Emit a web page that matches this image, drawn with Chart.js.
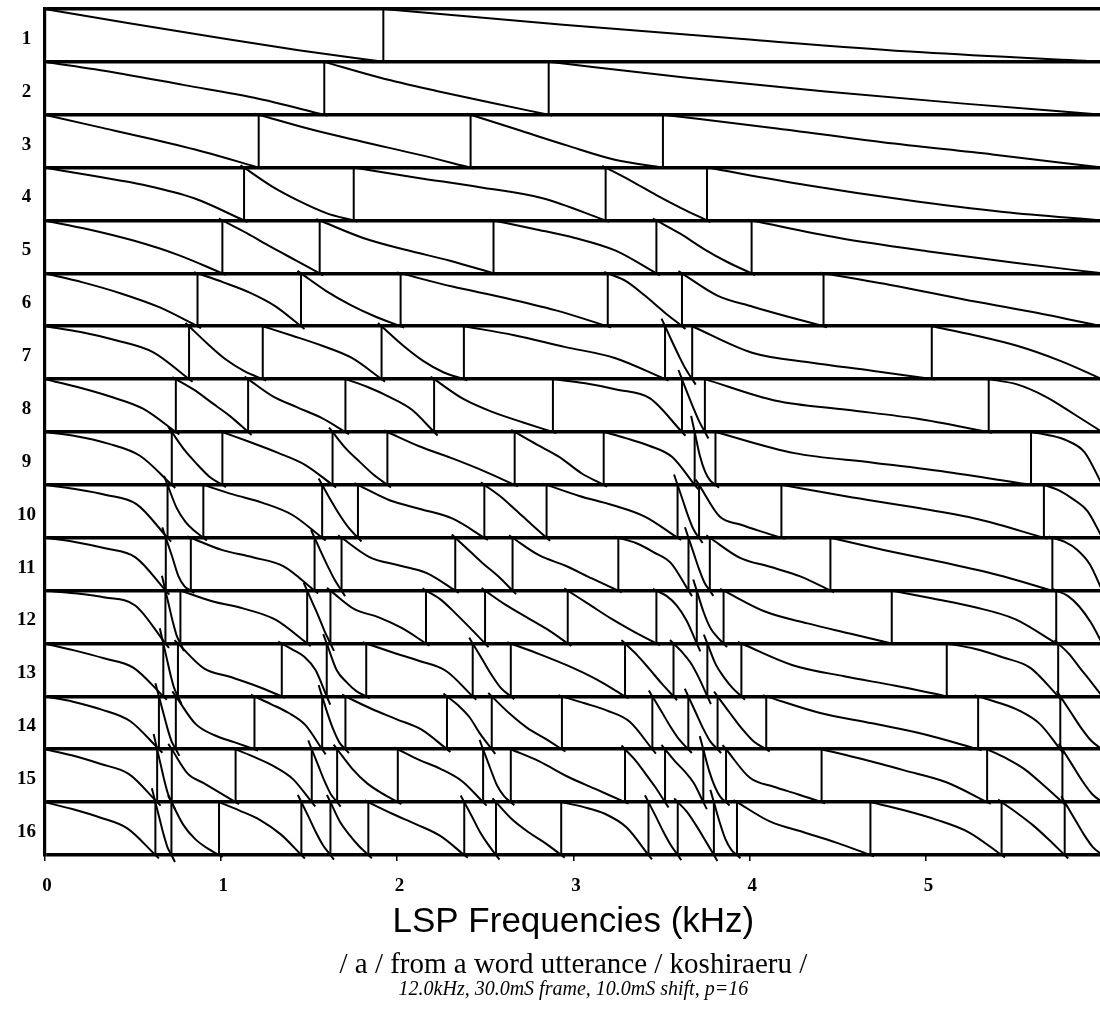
<!DOCTYPE html>
<html>
<head>
<meta charset="utf-8">
<script src="https://cdn.jsdelivr.net/npm/chart.js@4.4.1/dist/chart.umd.min.js"></script>
<style>
html,body{margin:0;padding:0;overflow:hidden;background:#fff;width:1100px;height:1012px}
#wrap{width:1110px;height:1012px}
</style>
</head>
<body>
<div id="wrap"><canvas id="c" width="1110" height="1012"></canvas></div>
<script>
// ---- data (kHz); row labels = LSP analysis order p ----
const rowLabels = ['1','2','3','4','5','6','7','8','9','10','11','12','13','14','15','16'];
const freqMax = 6; // kHz (half of 12.0 kHz sampling)

// LSP frequencies per order (kHz)
const lsp1  = [1.922];
const lsp2  = [1.587, 2.860];
const lsp3  = [1.215, 2.417, 3.508];
const lsp4  = [1.132, 1.754, 3.183, 3.758];
const lsp5  = [1.009, 1.561, 2.547, 3.471, 4.011];
const lsp6  = [0.868, 1.455, 2.020, 3.195, 3.616, 4.419];
const lsp7  = [0.820, 1.238, 1.912, 2.379, 3.520, 3.674, 5.033];
const lsp8  = [0.745, 1.155, 1.707, 2.210, 2.884, 3.616, 3.746, 5.356];
const lsp9  = [0.722, 1.009, 1.634, 1.945, 2.667, 3.172, 3.688, 3.806, 5.596];
const lsp10 = [0.698, 0.901, 1.575, 1.778, 2.495, 2.848, 3.591, 3.713, 4.180, 5.669];
const lsp11 = [0.688, 0.830, 1.532, 1.685, 2.330, 2.655, 3.255, 3.653, 3.774, 4.458, 5.717];
const lsp12 = [0.686, 0.771, 1.490, 1.622, 2.164, 2.499, 2.968, 3.471, 3.700, 3.852, 4.806, 5.739];
const lsp13 = [0.674, 0.757, 1.346, 1.601, 1.825, 2.429, 2.645, 3.293, 3.568, 3.760, 3.953, 5.118, 5.750];
const lsp14 = [0.649, 0.745, 1.191, 1.575, 1.707, 2.283, 2.537, 2.935, 3.448, 3.652, 3.818, 4.094, 5.296, 5.762];
const lsp15 = [0.639, 0.722, 1.084, 1.516, 1.660, 2.004, 2.488, 2.645, 3.293, 3.520, 3.737, 3.866, 4.408, 5.347, 5.774];
const lsp16 = [0.629, 0.720, 0.990, 1.457, 1.622, 1.837, 2.381, 2.561, 2.931, 3.426, 3.592, 3.797, 3.928, 4.685, 5.429, 5.787];

// phase curve between consecutive LSPs: fraction of row height (0 top .. 1 bottom)
// read at 25%, 50%, 75% of each interval
const shape1  = [[0.27,0.53,0.78],[0.3,0.57,0.82]];
const shape2  = [[0.2,0.44,0.68],[0.3,0.55,0.78],[0.3,0.56,0.79]];
const shape3  = [[0.23,0.46,0.71],[0.28,0.52,0.75],[0.29,0.58,0.85],[0.25,0.52,0.75]];
const shape4  = [[0.16,0.33,0.58],[0.35,0.63,0.86],[0.19,0.37,0.58],[0.25,0.52,0.77],[0.33,0.61,0.84]];
const shape5  = [[0.17,0.38,0.65],[0.24,0.5,0.75],[0.33,0.56,0.76],[0.16,0.33,0.57],[0.25,0.54,0.79],[0.33,0.58,0.8]];
const shape6  = [[0.17,0.38,0.64],[0.17,0.36,0.62],[0.33,0.6,0.82],[0.25,0.46,0.7],[0.15,0.42,0.72],[0.42,0.63,0.82],[0.23,0.49,0.73]];
const shape7  = [[0.11,0.27,0.49],[0.33,0.63,0.85],[0.18,0.37,0.6],[0.35,0.65,0.87],[0.17,0.39,0.6],[0.28,0.55,0.8],[0.5,0.69,0.84],[0.17,0.37,0.65]];
const shape8  = [[0.15,0.33,0.56],[0.2,0.45,0.7],[0.32,0.53,0.73],[0.15,0.34,0.58],[0.38,0.63,0.82],[0.08,0.2,0.36],[0.28,0.55,0.8],[0.41,0.58,0.75],[0.1,0.33,0.66]];
const shape9  = [[0.08,0.22,0.45],[0.34,0.61,0.85],[0.19,0.39,0.62],[0.32,0.57,0.81],[0.27,0.49,0.73],[0.24,0.47,0.78],[0.12,0.26,0.47],[0.45,0.75,0.92],[0.4,0.58,0.77],[0.06,0.16,0.38]];
const shape10 = [[0.08,0.19,0.37],[0.43,0.7,0.87],[0.18,0.34,0.57],[0.3,0.58,0.82],[0.29,0.46,0.64],[0.21,0.47,0.74],[0.21,0.38,0.6],[0.3,0.6,0.85],[0.6,0.75,0.88],[0.22,0.42,0.65],[0.1,0.27,0.5]];
const shape11 = [[0.08,0.2,0.37],[0.35,0.72,0.92],[0.23,0.37,0.54],[0.28,0.55,0.8],[0.37,0.52,0.67],[0.25,0.5,0.73],[0.33,0.53,0.77],[0.1,0.27,0.48],[0.3,0.6,0.85],[0.38,0.55,0.73],[0.24,0.46,0.7],[0.08,0.23,0.5]];
const shape12 = [[0.05,0.13,0.28],[0.3,0.6,0.85],[0.2,0.34,0.55],[0.25,0.5,0.77],[0.35,0.5,0.71],[0.17,0.43,0.71],[0.27,0.5,0.73],[0.27,0.54,0.78],[0.1,0.28,0.57],[0.4,0.7,0.87],[0.4,0.62,0.81],[0.15,0.31,0.54],[0.1,0.3,0.6]];
const shape13 = [[0.13,0.28,0.46],[0.3,0.6,0.85],[0.47,0.63,0.8],[0.12,0.25,0.5],[0.5,0.73,0.9],[0.17,0.33,0.52],[0.3,0.6,0.85],[0.2,0.42,0.68],[0.22,0.48,0.75],[0.16,0.36,0.65],[0.4,0.65,0.85],[0.41,0.62,0.8],[0.1,0.26,0.46],[0.2,0.47,0.73]];
const shape14 = [[0.1,0.25,0.47],[0.3,0.6,0.85],[0.52,0.74,0.87],[0.15,0.31,0.54],[0.35,0.65,0.88],[0.23,0.43,0.63],[0.17,0.39,0.72],[0.32,0.59,0.79],[0.13,0.27,0.48],[0.28,0.57,0.82],[0.3,0.6,0.85],[0.31,0.61,0.86],[0.31,0.51,0.72],[0.12,0.27,0.52],[0.3,0.6,0.85]];
const shape15 = [[0.12,0.28,0.47],[0.3,0.6,0.85],[0.46,0.64,0.82],[0.15,0.32,0.56],[0.3,0.6,0.85],[0.37,0.65,0.84],[0.2,0.37,0.6],[0.35,0.68,0.88],[0.23,0.52,0.76],[0.2,0.45,0.71],[0.22,0.41,0.64],[0.4,0.7,0.9],[0.54,0.71,0.85],[0.19,0.4,0.62],[0.17,0.38,0.68],[0.3,0.6,0.85]];
const shape16 = [[0.13,0.29,0.5],[0.3,0.6,0.85],[0.43,0.7,0.87],[0.16,0.34,0.61],[0.28,0.57,0.82],[0.37,0.62,0.83],[0.22,0.42,0.64],[0.28,0.57,0.8],[0.33,0.57,0.77],[0.09,0.22,0.48],[0.27,0.55,0.8],[0.18,0.43,0.71],[0.38,0.7,0.9],[0.37,0.57,0.77],[0.15,0.33,0.57],[0.21,0.44,0.71],[0.3,0.6,0.85]];

const xTitle = 'LSP Frequencies (kHz)';
const subTitle = '/ a / from a word utterance / koshiraeru /';
const noteTitle = '12.0kHz, 30.0mS frame, 10.0mS shift, p=16';

// ---- build datasets ----
const lspRows = [lsp1,lsp2,lsp3,lsp4,lsp5,lsp6,lsp7,lsp8,lsp9,lsp10,lsp11,lsp12,lsp13,lsp14,lsp15,lsp16];
const shapeRows = [shape1,shape2,shape3,shape4,shape5,shape6,shape7,shape8,shape9,shape10,shape11,shape12,shape13,shape14,shape15,shape16];
const STEP = 0.02, CAP = 0.4; // continuation of the wrapped phase one analysis step past each LSP

function rowCurve(r) {
  const edges = [0].concat(lspRows[r], [freqMax]);
  const shp = shapeRows[r];
  const pts = [];
  for (let s = 0; s < edges.length - 1; s++) {
    const fL = edges[s], fR = edges[s + 1], w = fR - fL;
    const [a, b, c] = shp[s];
    const top = r, bot = r + 1;
    if (s > 0) {
      const sl = a / (0.25 * w), ov = Math.min(sl * STEP, CAP);
      pts.push({x: fL - ov / sl, y: top - ov});
    }
    pts.push({x: fL, y: top}, {x: fL + 0.25 * w, y: top + a}, {x: fL + 0.5 * w, y: top + b},
             {x: fL + 0.75 * w, y: top + c}, {x: fR, y: bot});
    if (s < edges.length - 2) {
      const sl = (1 - c) / (0.25 * w), ov = Math.min(sl * STEP, CAP);
      pts.push({x: fR + ov / sl, y: bot + ov});
    }
    pts.push({x: fR, y: null});
  }
  return pts;
}
function rowVerticals(r) {
  const pts = [];
  lspRows[r].forEach(f => { pts.push({x: f, y: r}, {x: f, y: r + 1}, {x: f, y: null}); });
  return pts;
}

const datasets = [];
for (let r = 0; r < lspRows.length; r++) {
  datasets.push({data: rowCurve(r), borderColor: '#000', borderWidth: 2, pointRadius: 0,
    cubicInterpolationMode: 'monotone', spanGaps: false, clip: false, fill: false});
  datasets.push({data: rowVerticals(r), borderColor: '#000', borderWidth: 2, pointRadius: 0,
    tension: 0, spanGaps: false, clip: false, fill: false});
}

const isInt = ctx => ctx.tick && Number.isInteger(ctx.tick.value);

new Chart(document.getElementById('c'), {
  type: 'line',
  data: {datasets},
  options: {
    responsive: false,
    devicePixelRatio: 1,
    animation: false,
    events: [],
    layout: {padding: {top: 7.5, left: 0, right: 7.7, bottom: 0}},
    plugins: {
      legend: {display: false},
      tooltip: {enabled: false},
      subtitle: {display: true, position: 'bottom', fullSize: false, text: subTitle, color: '#000',
        font: {family: 'Liberation Serif', size: 29, weight: 'normal', lineHeight: 1},
        padding: {top: 0, bottom: 0}},
      title: {display: true, position: 'bottom', fullSize: false, text: noteTitle, color: '#000',
        font: {family: 'Liberation Serif', size: 20, style: 'italic', weight: 'normal', lineHeight: 1},
        padding: {top: 0, bottom: 12}}
    },
    scales: {
      x: {
        type: 'linear', min: 0, max: freqMax,
        ticks: {stepSize: 1, autoSkip: false, padding: 3, labelOffset: 2.5, maxRotation: 0, minRotation: 0,
          color: '#000', font: {family: 'Liberation Serif', size: 19, weight: 'bold', lineHeight: 2.37}},
        grid: {drawOnChartArea: false, drawTicks: true, tickLength: 6, color: '#000', lineWidth: 1.5},
        border: {display: false},
        title: {display: true, text: xTitle, color: '#000',
          font: {family: 'Liberation Sans', size: 35, weight: 'normal', lineHeight: 1.2},
          padding: {top: 0, bottom: 8}},
        afterFit: s => { s.height = 96; }
      },
      y: {
        type: 'linear', min: 0, max: 16, reverse: true,
        ticks: {stepSize: 0.5, autoSkip: false, padding: 8.5, crossAlign: 'center', labelOffset: 3.5,
          color: '#000', font: {family: 'Liberation Serif', size: 19, weight: 'bold', lineHeight: 0.05},
          callback: v => (v % 1 !== 0) ? rowLabels[Math.floor(v)] : ''},
        grid: {drawTicks: false,
          color: ctx => isInt(ctx) ? '#000' : 'rgba(0,0,0,0)',
          lineWidth: ctx => isInt(ctx) ? 3.6 : 0},
        border: {display: true, color: '#000', width: 3.2},
        afterFit: s => { s.width = 44.5; }
      }
    }
  }
});
</script>
</body>
</html>
